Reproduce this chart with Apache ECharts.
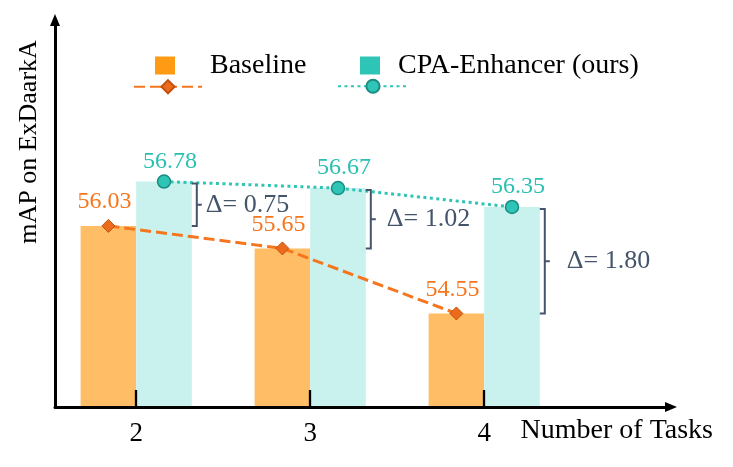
<!DOCTYPE html>
<html>
<head>
<meta charset="utf-8">
<script src="https://cdn.jsdelivr.net/npm/echarts@6/dist/echarts.min.js"></script>
<style>html,body{margin:0;padding:0;background:#fff;}#c{width:733px;height:467px;}</style>
</head>
<body>
<div id="c"></div>
<script>
// ---- data ----
const tasks = [2, 3, 4];
const tickLabels = ['2', '3', '4'];
const baseline = [56.03, 55.65, 54.55];
const cpa = [56.78, 56.67, 56.35];
const seriesNames = ['Baseline', 'CPA-Enhancer (ours)'];
const xName = 'Number of Tasks';
const yName = 'mAP on ExDaarkA';

// ---- layout / style ----
const W = 733, H = 467;
const GRID = {left: 55, right: 62, top: 20, bottom: 60};
const X_MIN = 1.5333, X_MAX = 5.0736;
const Y_MIN = 52.969, Y_MAX = 59.511;
const BAR_W = 55.6;
const pxPerUnit = (W - GRID.left - GRID.right) / (X_MAX - X_MIN);
const halfBar = (BAR_W / 2) / pxPerUnit;
const deltaDx = [14, 21, 27];
const SERIF = 'Liberation Serif, Times New Roman, serif';
const ORANGE_BAR = '#FFBE66', TEAL_BAR = '#C9F2EE';
const ORANGE = '#FF9A15', TEAL = '#2EC4B6';
const ORANGE_LINE = '#F5761E', DELTA = '#44546A';

const chart = echarts.init(document.getElementById('c'), null, {renderer: 'canvas'});

const bracketData = tasks.map((t, i) => [t, cpa[i], baseline[i]]);

const option = {
  animation: false,
  backgroundColor: '#fff',
  grid: Object.assign({containLabel: false, outerBoundsMode: 'none'}, GRID),
  xAxis: {
    type: 'value', min: X_MIN, max: X_MAX, z: 10,
    axisLine: {show: true, symbol: ['none', 'triangle'], symbolSize: [10, 12], lineStyle: {color: '#000', width: 3}},
    axisTick: {show: true, inside: true, length: 17, customValues: tasks, lineStyle: {color: '#000', width: 2.3}},
    axisLabel: {show: true, customValues: tasks, margin: 13, fontFamily: SERIF, fontSize: 27, color: '#000',
      formatter: v => tickLabels[tasks.indexOf(v)] ?? ''},
    splitLine: {show: false}
  },
  yAxis: {
    type: 'value', min: Y_MIN, max: Y_MAX, z: 10,
    axisLine: {show: true, symbol: ['none', 'triangle'], symbolSize: [10, 12], lineStyle: {color: '#000', width: 3}},
    axisTick: {show: false}, axisLabel: {show: false}, splitLine: {show: false}
  },
  legend: [
    {data: [{name: seriesNames[0], itemStyle: {color: ORANGE}}], left: 155, top: 51.5, icon: 'rect', itemWidth: 20, itemHeight: 18,
      selectedMode: false, padding: 0, textStyle: {fontFamily: SERIF, fontSize: 28, color: '#000', padding: [9, 0, 0, 30]}},
    {data: [{name: seriesNames[1], itemStyle: {color: TEAL}}], left: 360, top: 51.5, icon: 'rect', itemWidth: 20, itemHeight: 18,
      selectedMode: false, padding: 0, textStyle: {fontFamily: SERIF, fontSize: 28, color: '#000', padding: [0, 0, 0, 13]}},
    {data: ['Baseline-line'], left: 133, top: 78.5, itemWidth: 68, itemHeight: 16.5, selectedMode: false, padding: 0,
      formatter: () => ''},
    {data: ['CPA-line'], left: 337, top: 78, itemWidth: 70, itemHeight: 16.5, selectedMode: false, padding: 0,
      formatter: () => ''}
  ],
  graphic: [{
    type: 'text', x: 29, y: 142, rotation: Math.PI / 2,
    style: {text: yName, fontFamily: SERIF, fontSize: 26, fill: '#000', align: 'center', verticalAlign: 'middle'}
  }, {
    type: 'text', x: 713, y: 431,
    style: {text: xName, fontFamily: SERIF, fontSize: 28, fill: '#000', align: 'right', verticalAlign: 'middle'}
  }],
  series: [
    {name: seriesNames[0], type: 'bar', barWidth: BAR_W, barGap: '0%', data: tasks.map((t, i) => [t, baseline[i]]),
      itemStyle: {color: ORANGE_BAR}},
    {name: seriesNames[1], type: 'bar', barWidth: BAR_W, barGap: '0%', data: tasks.map((t, i) => [t, cpa[i]]),
      itemStyle: {color: TEAL_BAR}},
    {name: 'Baseline-line', type: 'line', data: tasks.map((t, i) => [t - halfBar, baseline[i]]),
      symbol: 'diamond', symbolSize: 13,
      lineStyle: {color: ORANGE_LINE, width: 3, type: [11, 5]},
      itemStyle: {color: '#EC6A1C', borderColor: '#C2520F', borderWidth: 1},
      label: {show: true, position: 'top', distance: 5, offset: [-4, 0], color: ORANGE_LINE, fontFamily: SERIF, fontSize: 24,
        formatter: p => p.value[1].toFixed(2)}, z: 4},
    {name: 'CPA-line', type: 'line', data: tasks.map((t, i) => [t + halfBar, cpa[i]]),
      symbol: 'circle', symbolSize: 13,
      lineStyle: {color: TEAL, width: 3, type: [3, 3.5]},
      itemStyle: {color: TEAL, borderColor: '#1B8C82', borderWidth: 1.5},
      label: {show: true, position: 'top', distance: 1, offset: [6, 0], color: '#2BBFB2', fontFamily: SERIF, fontSize: 24,
        formatter: p => p.value[1].toFixed(2)}, z: 4},
    {name: 'delta', type: 'custom', clip: false, z: 5, data: bracketData,
      renderItem: (params, api) => {
        const x = api.value(0), hi = api.value(1), lo = api.value(2);
        const pHi = api.coord([x, hi]), pLo = api.coord([x, lo]);
        const right = pHi[0] + BAR_W;
        const y1 = pHi[1] + 2, y2 = pLo[1];
        const xs = right, xv = right + 5, xn = right + 10;
        const ym = (y1 + y2) / 2;
        const st = {stroke: DELTA, lineWidth: 2, fill: null};
        return {type: 'group', children: [
          {type: 'polyline', shape: {points: [[xs, y1], [xv, y1], [xv, y2], [xs, y2]]}, style: st},
          {type: 'line', shape: {x1: xv, y1: ym, x2: xn, y2: ym}, style: st},
          {type: 'text', x: right + deltaDx[params.dataIndex], y: ym,
            style: {text: 'Δ= ' + (hi - lo).toFixed(2), fontFamily: SERIF, fontSize: 26, fill: DELTA, align: 'left', verticalAlign: 'middle'}}
        ]};
      }
    }
  ]
};
chart.setOption(option);
</script>
</body>
</html>
